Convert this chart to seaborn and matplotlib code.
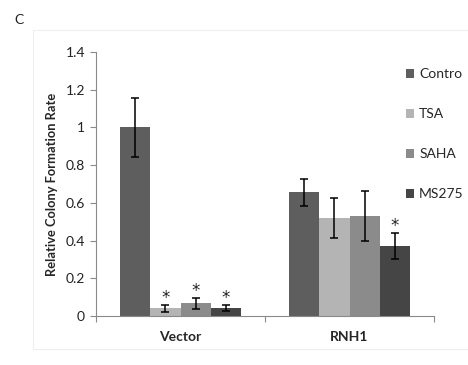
import matplotlib
matplotlib.use("Agg")
import matplotlib.pyplot as plt
import matplotlib.patches as mpatches
from matplotlib.ticker import FixedLocator, FuncFormatter
import seaborn as sns
import pandas as pd

groups = ["Vector", "RNH1"]
treatments = ["Contro", "TSA", "SAHA", "MS275"]
values = {
    "Contro": [1.0, 0.656],
    "TSA": [0.041, 0.518],
    "SAHA": [0.067, 0.529],
    "MS275": [0.041, 0.371],
}
errors = {
    "Contro": [0.155, 0.073],
    "TSA": [0.018, 0.107],
    "SAHA": [0.028, 0.133],
    "MS275": [0.017, 0.068],
}
stars = {
    "Contro": [False, False],
    "TSA": [True, False],
    "SAHA": [True, False],
    "MS275": [True, True],
}
colors = ["#5e5e5e", "#b4b4b4", "#8b8b8b", "#454545"]
yticks = [0, 0.2, 0.4, 0.6, 0.8, 1.0, 1.2, 1.4]

rows = []
for t in treatments:
    for g, v in zip(groups, values[t]):
        rows.append({"group": g, "treatment": t, "value": v})
df = pd.DataFrame(rows)

sns.set_style("white")
plt.rcParams["font.family"] = ["Lato", "DejaVu Sans"]

fig = plt.figure(figsize=(4.68, 3.65), dpi=100)
ax = fig.add_axes([96 / 468, 49 / 365, (434 - 96) / 468, (316 - 52) / 365])

sns.barplot(data=df, x="group", y="value", hue="treatment", order=groups,
            hue_order=treatments, palette=colors, width=0.72, errorbar=None,
            saturation=1, ax=ax, legend=False, linewidth=0)

for t, cont in zip(treatments, ax.containers):
    for i, bar in enumerate(cont):
        xc = bar.get_x() + bar.get_width() / 2
        h = bar.get_height()
        e = errors[t][i]
        ax.errorbar(xc, h, yerr=e, fmt="none", ecolor="black", elinewidth=1.1,
                    capsize=3.2, capthick=1.1, zorder=5)
        if stars[t][i]:
            ax.text(xc, h + e - 0.01, "*", ha="center", va="bottom",
                    fontsize=12, color="#222222", family="DejaVu Sans")

ax.set_ylim(0, 1.4)
ax.set_xlim(-0.5, 1.5)
ax.set_yticks(yticks)
ax.yaxis.set_major_formatter(FuncFormatter(lambda v, p: f"{v:g}"))
ax.tick_params(axis="y", direction="out", length=4, width=0.8, color="#8a8a8a",
               labelsize=10, labelcolor="#222222", pad=4, left=True)
ax.tick_params(axis="x", which="major", length=0, labelsize=10, pad=11)
ax.xaxis.set_minor_locator(FixedLocator([-0.5, 0.5, 1.5]))
ax.tick_params(axis="x", which="minor", direction="out", length=4, width=0.8,
               color="#8a8a8a", bottom=True)
for lbl in ax.get_xticklabels():
    lbl.set_fontweight("bold")
ax.set_xlabel("")
ax.set_ylabel("Relative Colony Formation Rate", fontsize=9.3, fontweight="bold",
              labelpad=5)
for s in ["top", "right"]:
    ax.spines[s].set_visible(False)
for s in ["left", "bottom"]:
    ax.spines[s].set_color("#8a8a8a")
    ax.spines[s].set_linewidth(0.8)

handles = [mpatches.Patch(facecolor=c, edgecolor="none", label=t)
           for c, t in zip(colors, treatments)]
fig.legend(handles=handles, loc="upper left", bbox_to_anchor=(406 / 468, 1 - 68 / 365),
           frameon=False, fontsize=10, handlelength=0.6, handleheight=0.6,
           handletextpad=0.35, labelspacing=2.02, borderaxespad=0, borderpad=0)

fig.patches.append(mpatches.Rectangle((33 / 468, 1 - 349 / 365), 1 - 33 / 468 + 0.01,
                                      (349 - 30) / 365, transform=fig.transFigure,
                                      fill=False, edgecolor="#efefef", linewidth=0.8))
fig.text(14 / 468, 1 - 20 / 365, "C", fontsize=10, color="#222222", va="center")

fig.savefig("out.png", dpi=100)
